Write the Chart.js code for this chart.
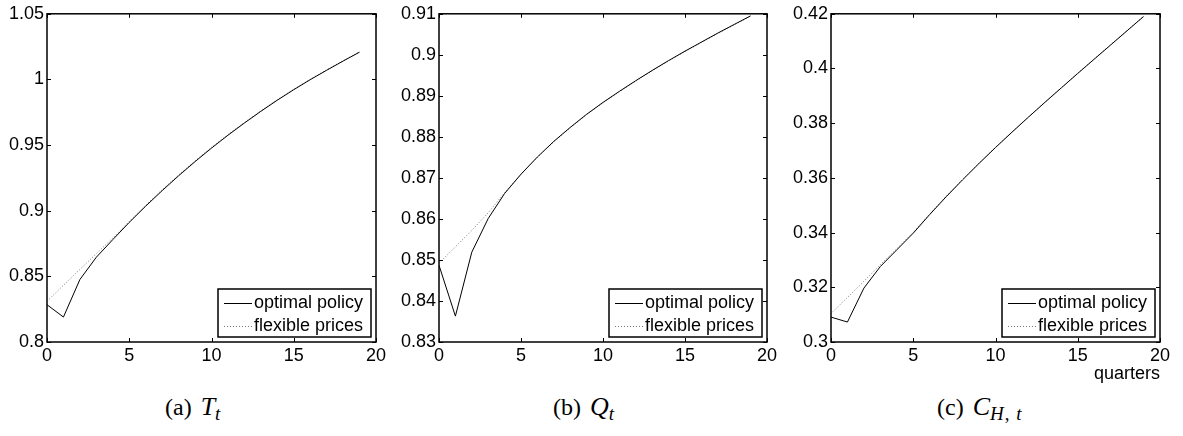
<!DOCTYPE html>
<html>
<head>
<meta charset="utf-8">
<script src="https://cdn.jsdelivr.net/npm/chart.js@4/dist/chart.umd.min.js"></script>
<style>
    body { margin: 0; background: #fff; width: 1183px; height: 436px; position: relative; overflow: hidden; }
    .panel { position: absolute; top: 0; width: 390px; height: 390px; }
    .cap { position: absolute; top: 392px; font-family: 'Liberation Serif', 'DejaVu Serif', serif; font-size: 24px; color: #000; white-space: nowrap; }
    .cap i.m { margin-left: 9px; font-size: 26px; }
    .cap sub { font-size: 19px; vertical-align: -5px; line-height: 0; letter-spacing: 1px; }
</style>
</head>
<body>

<div class="panel" style="left:0px"><canvas id="chartT"></canvas></div>
<div class="panel" style="left:392px"><canvas id="chartQ"></canvas></div>
<div class="panel" style="left:784px"><canvas id="chartC"></canvas></div>

<div class="cap" style="left:165px">(a)<i class="m">T</i><sub><i>t</i></sub></div>
<div class="cap" style="left:553px">(b)<i class="m">Q</i><sub><i>t</i></sub></div>
<div class="cap" style="left:937px">(c)<i class="m">C</i><sub><i>H</i>, <i>t</i></sub></div>

<script>
// ===== DATA =====
var quarters = [0, 1, 2, 3, 4, 5, 6, 7, 8, 9, 10, 11, 12, 13, 14, 15, 16, 17, 18, 19];
var xTicks = [0, 5, 10, 15, 20];

// terms of trade
var optimalT = [0.8284, 0.8190, 0.8476, 0.8646, 0.8780, 0.8911, 0.9035, 0.9153, 0.9266, 0.9374,
                0.9477, 0.9575, 0.9668, 0.9757, 0.9842, 0.9922, 0.9998, 1.0070, 1.0140, 1.0208];
var flexibleT = [0.8310, 0.8432, 0.8553, 0.8673, 0.8792, 0.8918, 0.9042, 0.9160, 0.9273, 0.9380,
                 0.9483, 0.9580, 0.9672, 0.9761, 0.9845, 0.9925, 1.0001, 1.0073, 1.0142, 1.0210];
var yTicksT = [0.8, 0.85, 0.9, 0.95, 1, 1.05];

// real exchange rate
var optimalQ = [0.8487, 0.8363, 0.8519, 0.8601, 0.8662, 0.8709, 0.8751, 0.8789, 0.8823, 0.8855,
                0.8884, 0.8911, 0.8937, 0.8962, 0.8986, 0.9009, 0.9031, 0.9053, 0.9074, 0.9095];
var flexibleQ = [0.8492, 0.8532, 0.8572, 0.8615, 0.8664, 0.8709, 0.8750, 0.8788, 0.8822, 0.8854,
                 0.8883, 0.8910, 0.8936, 0.8961, 0.8985, 0.9008, 0.9030, 0.9052, 0.9073, 0.9094];
var yTicksQ = [0.83, 0.84, 0.85, 0.86, 0.87, 0.88, 0.89, 0.9, 0.91];

// home consumption of home goods
var optimalC = [0.3091, 0.3073, 0.3197, 0.3276, 0.3337, 0.3398, 0.3466, 0.3531, 0.3593, 0.3653,
                0.3711, 0.3767, 0.3822, 0.3876, 0.3929, 0.3982, 0.4034, 0.4086, 0.4138, 0.4190];
var flexibleC = [0.3104, 0.3163, 0.3222, 0.3283, 0.3341, 0.3401, 0.3468, 0.3533, 0.3595, 0.3654,
                 0.3712, 0.3768, 0.3823, 0.3877, 0.3930, 0.3983, 0.4035, 0.4087, 0.4139, 0.4191];
var yTicksC = [0.3, 0.32, 0.34, 0.36, 0.38, 0.4, 0.42];

var seriesNames = ['optimal policy', 'flexible prices'];

Chart.defaults.font.family = "'Liberation Sans', Arial, sans-serif";
Chart.defaults.font.size = 18;
Chart.defaults.color = '#000';

// ===== BOX WITH INWARD TICKS ON ALL SIDES =====
var boxAxes = {
    id: 'boxAxes',
    afterDraw: function(chart) {
        var ctx = chart.ctx;
        var a = chart.chartArea;
        var xs = chart.scales.x, ys = chart.scales.y;
        var len = 4;
        ctx.save();
        ctx.strokeStyle = '#000';
        ctx.lineWidth = 1;
        ctx.beginPath();
        xs.ticks.forEach(function(t) {
            var px = Math.round(xs.getPixelForValue(t.value)) + 0.5;
            ctx.moveTo(px, a.bottom); ctx.lineTo(px, a.bottom - len);
            ctx.moveTo(px, a.top); ctx.lineTo(px, a.top + len);
        });
        ys.ticks.forEach(function(t) {
            var py = Math.round(ys.getPixelForValue(t.value)) + 0.5;
            ctx.moveTo(a.left, py); ctx.lineTo(a.left + len, py);
            ctx.moveTo(a.right, py); ctx.lineTo(a.right - len, py);
        });
        ctx.stroke();
        ctx.lineWidth = 1.5;
        ctx.strokeRect(a.left, a.top, a.right - a.left, a.bottom - a.top);
        ctx.restore();
    }
};

// ===== LEGEND BOX IN LOWER RIGHT CORNER =====
var cornerLegend = {
    id: 'cornerLegend',
    afterDraw: function(chart) {
        var ctx = chart.ctx;
        var a = chart.chartArea;
        var w = 153, h = 48;
        var x0 = a.right - 5 - w, y0 = a.bottom - 5 - h;
        ctx.save();
        ctx.fillStyle = '#fff';
        ctx.fillRect(x0, y0, w, h);
        ctx.strokeStyle = '#000';
        ctx.lineWidth = 1.5;
        ctx.strokeRect(x0, y0, w, h);
        ctx.font = "18px 'Liberation Sans', Arial, sans-serif";
        ctx.textBaseline = 'middle';
        chart.data.datasets.forEach(function(ds, i) {
            var ly = y0 + 14 + i * 23;
            ctx.strokeStyle = ds.borderColor;
            ctx.lineWidth = ds.borderWidth;
            ctx.setLineDash(ds.borderDash || []);
            ctx.beginPath();
            ctx.moveTo(x0 + 6, ly + 0.5);
            ctx.lineTo(x0 + 34, ly + 0.5);
            ctx.stroke();
            ctx.setLineDash([]);
            ctx.fillStyle = '#000';
            ctx.fillText(ds.label, x0 + 36, ly);
        });
        ctx.restore();
    }
};

function makePanel(canvasId, optimal, flexible, yTicks, rightPad, xTitle) {
    var optPoints = [];
    var flexPoints = [];
    for (var i = 0; i < quarters.length; i++) {
        optPoints.push({ x: quarters[i], y: optimal[i] });
        flexPoints.push({ x: quarters[i], y: flexible[i] });
    }

    var ctx = document.getElementById(canvasId).getContext('2d');
    return new Chart(ctx, {
        type: 'line',
        data: {
            datasets: [{
                label: seriesNames[0],
                data: optPoints,
                borderColor: '#000',
                borderWidth: 1,
                pointRadius: 0,
                tension: 0,
                fill: false
            }, {
                label: seriesNames[1],
                data: flexPoints,
                borderColor: '#777',
                borderWidth: 1,
                borderDash: [1, 2],
                pointRadius: 0,
                tension: 0,
                fill: false
            }]
        },
        options: {
            responsive: true,
            maintainAspectRatio: false,
            animation: false,
            layout: { padding: { top: 13, right: rightPad, left: 0, bottom: 10 } },
            plugins: {
                legend: { display: false },
                tooltip: { enabled: false }
            },
            scales: {
                x: {
                    type: 'linear',
                    min: 0,
                    max: 20,
                    grid: { display: false, drawTicks: false },
                    border: { display: false },
                    afterBuildTicks: function(scale) {
                        scale.ticks = xTicks.map(function(v) { return { value: v }; });
                    },
                    afterFit: function(scale) { scale.height = 38; },
                    ticks: {
                        padding: 3,
                        maxRotation: 0,
                        callback: function(v) { return String(v); }
                    },
                    title: {
                        display: !!xTitle,
                        text: xTitle || '',
                        align: 'end',
                        padding: { top: 0, bottom: -5 },
                        font: { size: 18 }
                    }
                },
                y: {
                    min: yTicks[0],
                    max: yTicks[yTicks.length - 1],
                    grid: { display: false, drawTicks: false },
                    border: { display: false },
                    afterBuildTicks: function(scale) {
                        scale.ticks = yTicks.map(function(v) { return { value: v }; });
                    },
                    afterFit: function(scale) { scale.width = 47; },
                    ticks: {
                        padding: 3,
                        callback: function(v) { return String(+v.toFixed(3)); }
                    }
                }
            }
        },
        plugins: [boxAxes, cornerLegend]
    });
}

// ===== INITIALIZE =====
makePanel('chartT', optimalT, flexibleT, yTicksT, 14, null);
makePanel('chartQ', optimalQ, flexibleQ, yTicksQ, 15, null);
makePanel('chartC', optimalC, flexibleC, yTicksC, 14, 'quarters');
</script>
</body>
</html>
